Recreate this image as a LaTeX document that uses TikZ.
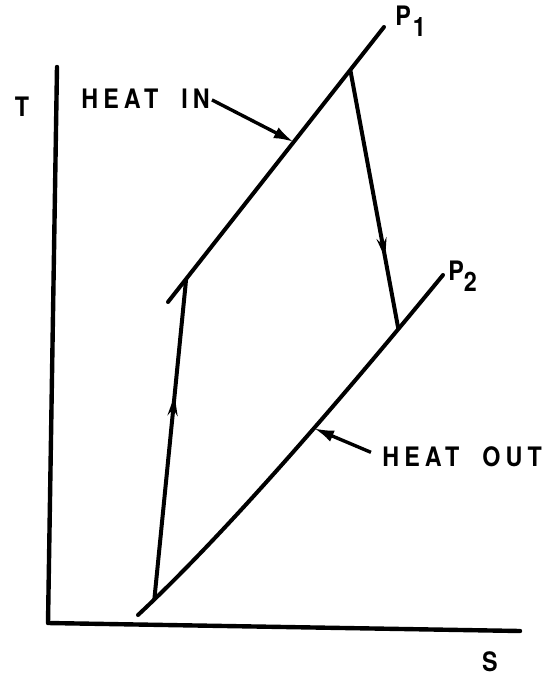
\documentclass[tikz,border=0pt]{standalone}
\usepackage{fontspec}
\setmainfont{TeX Gyre Heros}
\newfontfamily\lettering[FakeStretch=0.87,LetterSpace=19,WordSpace=2]{TeX Gyre Heros}
\usetikzlibrary{arrows.meta,decorations.markings}

\tikzset{
  axisline/.style={line width=2.2pt,line cap=round,line join=round},
  isobar/.style={line width=2pt,line cap=round},
  process/.style={line width=2pt,postaction={decorate},
    decoration={markings,mark=at position #1 with {\arrow{Stealth[length=10pt,width=5pt]}}}},
  pointer/.style={-{Latex[length=10pt,width=6pt]},line width=1.7pt},
  lbl/.style={font=\lettering\bfseries\fontsize{13.4}{15}\selectfont,inner sep=0pt}
}

\begin{document}
\begin{tikzpicture}[x=0.5pt,y=-0.5pt]
\useasboundingbox (0,0) rectangle (546,675);

% axes
\coordinate (Ttop) at (57,67);
\coordinate (O)    at (48,623);
\coordinate (Send) at (520,631);
\draw[axisline] (Ttop) -- (O) -- (Send);
\node[lbl] (Tlab) at (22,107) {T};
\node[lbl] (Slab) at (490,662) {S};

% isobars P1 and P2
\coordinate (p1lo) at (168,302);
\coordinate (p1hi) at (384,27);
\coordinate (p2lo) at (138,615);
\coordinate (p2hi) at (443,275);

\draw[isobar] (p1lo) -- coordinate[pos=0.084] (D) coordinate[pos=0.582] (hin)
  coordinate[pos=0.844] (A) (p1hi);
\draw[isobar] (p2lo) .. controls (214,544) and (316,430) .. coordinate[pos=0.07] (C)
  coordinate[pos=0.635] (hout) coordinate[pos=0.88] (B) (p2hi);

\node[lbl,anchor=west] (P1lab) at (395,21) {P\kern1pt\raisebox{-5.5pt}{1}};
\node[lbl,anchor=west] (P2lab) at (448,276) {P\raisebox{-5.5pt}{2}};

% cycle
\draw[process=0.726] (A) -- (B);
\draw[process=0.636] (C) -- (D);

% heat labels
\node[lbl,anchor=west] (heatin)  at (81,99)  {HEAT IN};
\node[lbl,anchor=west] (heatout) at (382,457) {HEAT OUT};
\draw[pointer,shorten <=1pt] (heatin.east) -- (hin);
\draw[pointer,shorten <=6pt] (heatout.west) -- (hout);

\end{tikzpicture}
\end{document}
